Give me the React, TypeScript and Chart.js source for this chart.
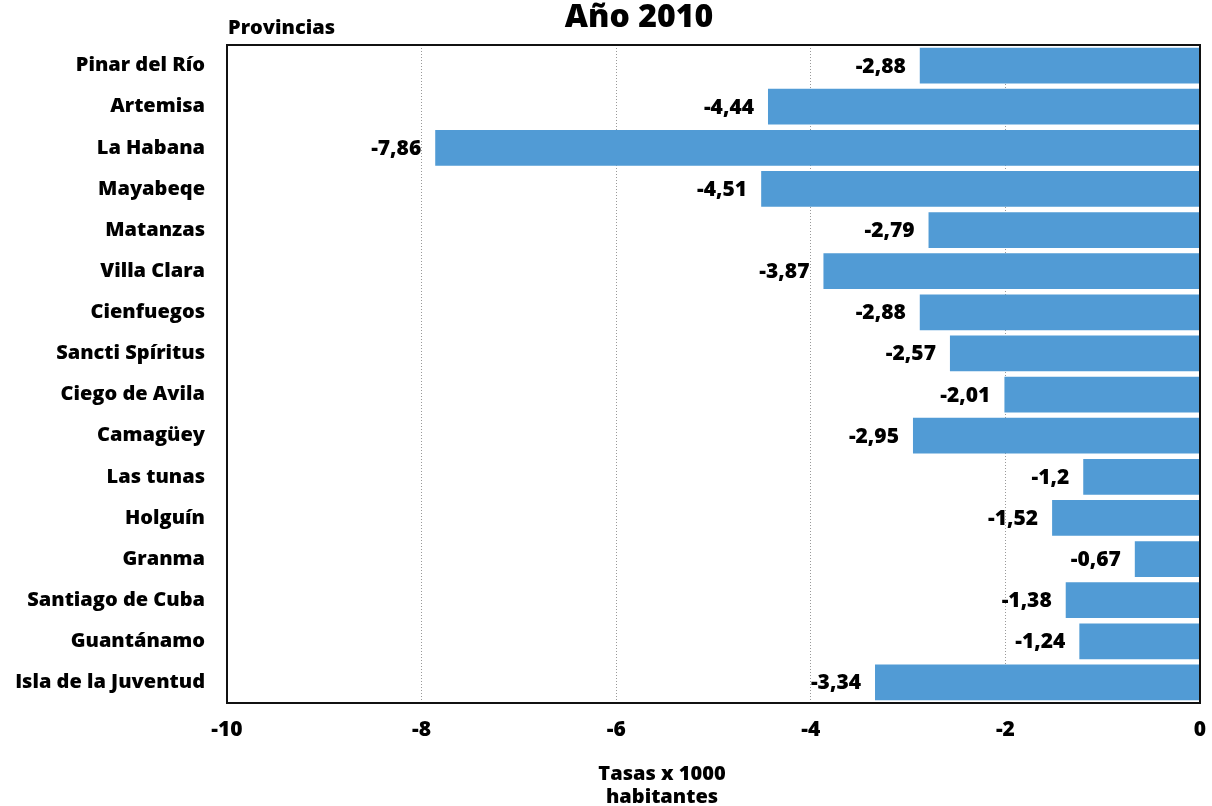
import React, { useEffect, useRef } from "react";
import { Chart, registerables } from "chart.js";

Chart.register(...registerables);

const provinces = [
  "Pinar del Río",
  "Artemisa",
  "La Habana",
  "Mayabeqe",
  "Matanzas",
  "Villa Clara",
  "Cienfuegos",
  "Sancti Spíritus",
  "Ciego de Avila",
  "Camagüey",
  "Las tunas",
  "Holguín",
  "Granma",
  "Santiago de Cuba",
  "Guantánamo",
  "Isla de la Juventud",
];

const rates = [
  -2.88, -4.44, -7.86, -4.51, -2.79, -3.87, -2.88, -2.57, -2.01, -2.95, -1.2,
  -1.52, -0.67, -1.38, -1.24, -3.34,
];

const xTicks = [-10, -8, -6, -4, -2, 0];

const chartTitle = "Año 2010";
const yTitle = "Provincias";
const xTitle = ["Tasas x 1000", "habitantes"];

const FONT = "'Open Sans', sans-serif";
const W = 800;

const fmt = (v: number) => String(v).replace(".", ",");

const decorPlugin = {
  id: "decor",
  afterDatasetsDraw(chart: any) {
    const { ctx, chartArea } = chart;
    const meta = chart.getDatasetMeta(0);
    ctx.save();
    // value labels
    ctx.font = `${W} 21px ${FONT}`;
    ctx.fillStyle = "#000";
    ctx.textAlign = "right";
    ctx.textBaseline = "middle";
    meta.data.forEach((bar: any, i: number) => {
      ctx.fillText(fmt(rates[i]), bar.x - 14, bar.y + 1);
    });
    // plot border
    ctx.strokeStyle = "#111";
    ctx.lineWidth = 2;
    ctx.strokeRect(
      chartArea.left,
      chartArea.top,
      chartArea.right - chartArea.left,
      chartArea.bottom - chartArea.top
    );
    // titles
    ctx.textAlign = "center";
    ctx.textBaseline = "alphabetic";
    ctx.font = `${W} 32px ${FONT}`;
    ctx.fillText(chartTitle, 639, 27);
    ctx.textAlign = "left";
    ctx.font = `${W} 20px ${FONT}`;
    ctx.fillText(yTitle, 228, 34);
    ctx.textAlign = "center";
    ctx.font = `${W} 20px ${FONT}`;
    ctx.fillText(xTitle[0], 662, 780);
    ctx.fillText(xTitle[1], 662, 803);
    ctx.restore();
  },
};

export default function App() {
  const ref = useRef<HTMLCanvasElement>(null);
  useEffect(() => {
    document.body.style.margin = "0";
    const chart = new Chart(ref.current!, {
      type: "bar",
      data: {
        labels: provinces,
        datasets: [
          {
            data: rates,
            backgroundColor: "#519BD5",
            borderWidth: 0,
            barPercentage: 0.87,
            categoryPercentage: 1,
          },
        ],
      },
      options: {
        indexAxis: "y",
        animation: false,
        responsive: false,
        devicePixelRatio: 1,
        layout: { padding: { top: 45, right: 12, left: 0, bottom: 0 } },
        plugins: {
          legend: { display: false },
          tooltip: { enabled: false },
          title: { display: false },
        },
        scales: {
          x: {
            min: -10,
            max: 0,
            afterBuildTicks(scale: any) {
              scale.ticks = xTicks.map((v) => ({ value: v }));
            },
            afterFit(scale: any) {
              scale.height = 806 - 703;
              scale.paddingRight = 0;
              scale.paddingLeft = 0;
            },
            ticks: {
              color: "#000",
              font: { family: FONT, size: 21, weight: W as any },
              padding: 14,
              maxRotation: 0,
            },
            grid: {
              drawTicks: false,
              color: (c: any) =>
                c.tick && (c.tick.value === -10 || c.tick.value === 0)
                  ? "rgba(0,0,0,0)"
                  : "#999",
              lineWidth: 1,
            },
            border: { display: false, dash: [1, 2] },
          },
          y: {
            afterFit(scale: any) {
              scale.width = 227;
            },
            ticks: {
              color: "#000",
              font: { family: FONT, size: 20, weight: W as any },
              padding: 22,
            },
            grid: { display: false, drawTicks: false },
            border: { display: false },
          },
        },
      },
      plugins: [decorPlugin],
    });
    return () => chart.destroy();
  }, []);
  return <canvas ref={ref} width={1212} height={806} />;
}
